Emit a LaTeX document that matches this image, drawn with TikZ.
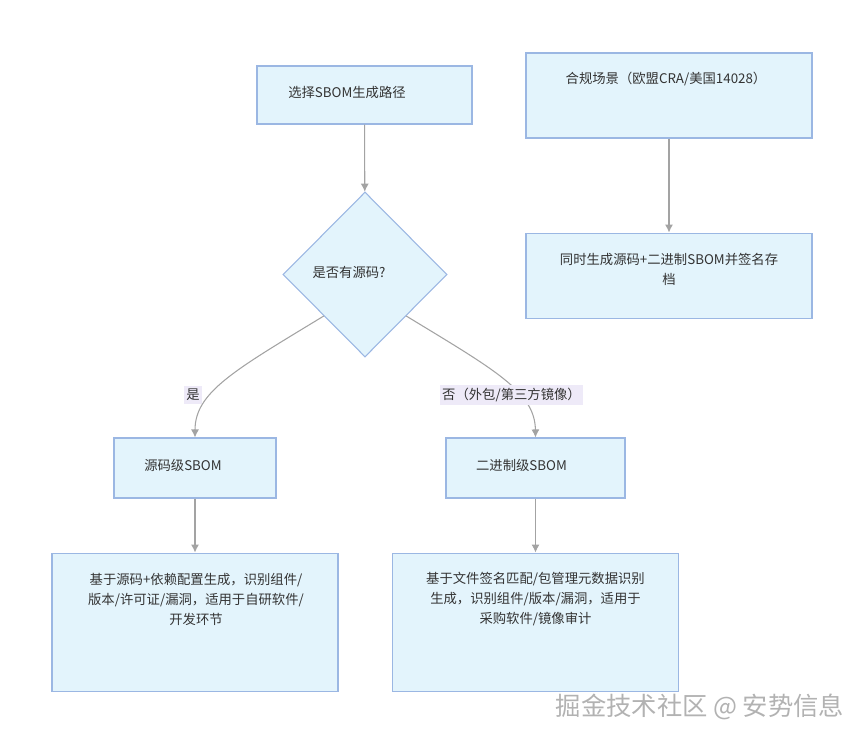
\documentclass[tikz,border=0pt]{standalone}
\usepackage{fontspec}
\newfontfamily\cjk{Noto Sans CJK SC}
\usepackage{tikz}
\usetikzlibrary{shapes,arrows,positioning,calc}
\usetikzlibrary{arrows.meta}
\tikzset{>={Latex[width=6pt,length=6pt]}}
\definecolor{boxfill}{HTML}{E3F4FC}
\definecolor{boxline}{HTML}{9BB7E3}
\definecolor{edgegray}{HTML}{A3A3A3}
\definecolor{txtgray}{HTML}{333333}
\definecolor{lblfill}{HTML}{EEEAF8}

\begin{document}
\begin{tikzpicture}[x=0.75pt, y=-0.75pt,
    box/.style={rectangle, draw=boxline, fill=boxfill, line width=0.8pt, inner sep=0pt},
    choice/.style={diamond, draw=boxline, fill=boxfill, line width=0.8pt, inner sep=0pt, minimum width=123pt, minimum height=123.75pt},
    txt/.style={font=\cjk\fontsize{10}{15}\selectfont, text=txtgray, align=center, inner sep=0pt},
    lbl/.style={font=\cjk\fontsize{10}{15}\selectfont, text=txtgray, fill=lblfill, inner sep=2pt},
    link/.style={->, draw=edgegray, line width=0.8pt}]
    \useasboundingbox (0,0) rectangle (864,743);

    \node[box, minimum width=161.25pt, minimum height=43.5pt] (pick) at (364.5,95) {};
    \node[choice] (has) at (365,274.5) {};
    \node[box, minimum width=214.5pt, minimum height=63.75pt] (comply) at (669,95.5) {};
    \node[box, minimum width=214.5pt, minimum height=63.75pt, below=70.5pt of comply] (both) {};
    \node[box, minimum width=121.5pt, minimum height=45pt] (src) at (195,468) {};
    \node[box, minimum width=134.25pt, minimum height=45pt] (bin) at (535.5,468) {};
    \node[box, minimum width=214.5pt, minimum height=103.5pt, below=40.5pt of src] (srcnote) {};
    \node[box, minimum width=214.5pt, minimum height=103.5pt, below=40.5pt of bin] (binnote) {};

    \node[txt] (pick-t) at ($(pick)+(-17.5,-3)$) {选择SBOM生成路径};
    \node[txt] (has-t) at ($(has)+(-16,-2.5)$) {是否有源码?};
    \node[txt] (comply-t) at ($(comply)+(-3,-16.5)$) {合规场景（欧盟CRA/美国14028）};
    \node[txt] (both-t) at ($(both)+(0,-6.5)$) {同时生成源码+二进制SBOM并签名存\\档};
    \node[txt] (src-t) at ($(src)+(-12,-3)$) {源码级SBOM};
    \node[txt] (bin-t) at ($(bin)+(-14,-3)$) {二进制级SBOM};
    \node[txt] (srcnote-t) at ($(srcnote)+(1,-23)$) {基于源码+依赖配置生成，识别组件/\\版本/许可证/漏洞，适用于自研软件/\\开发环节};
    \node[txt] (binnote-t) at ($(binnote)+(0,-23)$) {基于文件签名匹配/包管理元数据识别\\生成，识别组件/版本/漏洞，适用于\\采购软件/镜像审计};

    \draw[link] (pick) -- (has);
    \draw[link] (comply) -- (both);
    \draw[link] (has.south west) .. controls (235,370) and (195,392) .. (src.north);
    \draw[link] (has.south east) .. controls (495,370) and (535,392) .. (bin.north);
    \draw[link] (src) -- (srcnote);
    \draw[link] (bin) -- (binnote);

    \node[lbl] (yes) at (193,395) {是};
    \node[lbl] (no) at (511.5,395) {否（外包/第三方镜像）};

    \node[font=\cjk\fontsize{19}{19}\selectfont, text=gray!60, inner sep=0pt] (mark) at (700,707) {掘金技术社区 @ 安势信息};
\end{tikzpicture}
\end{document}
